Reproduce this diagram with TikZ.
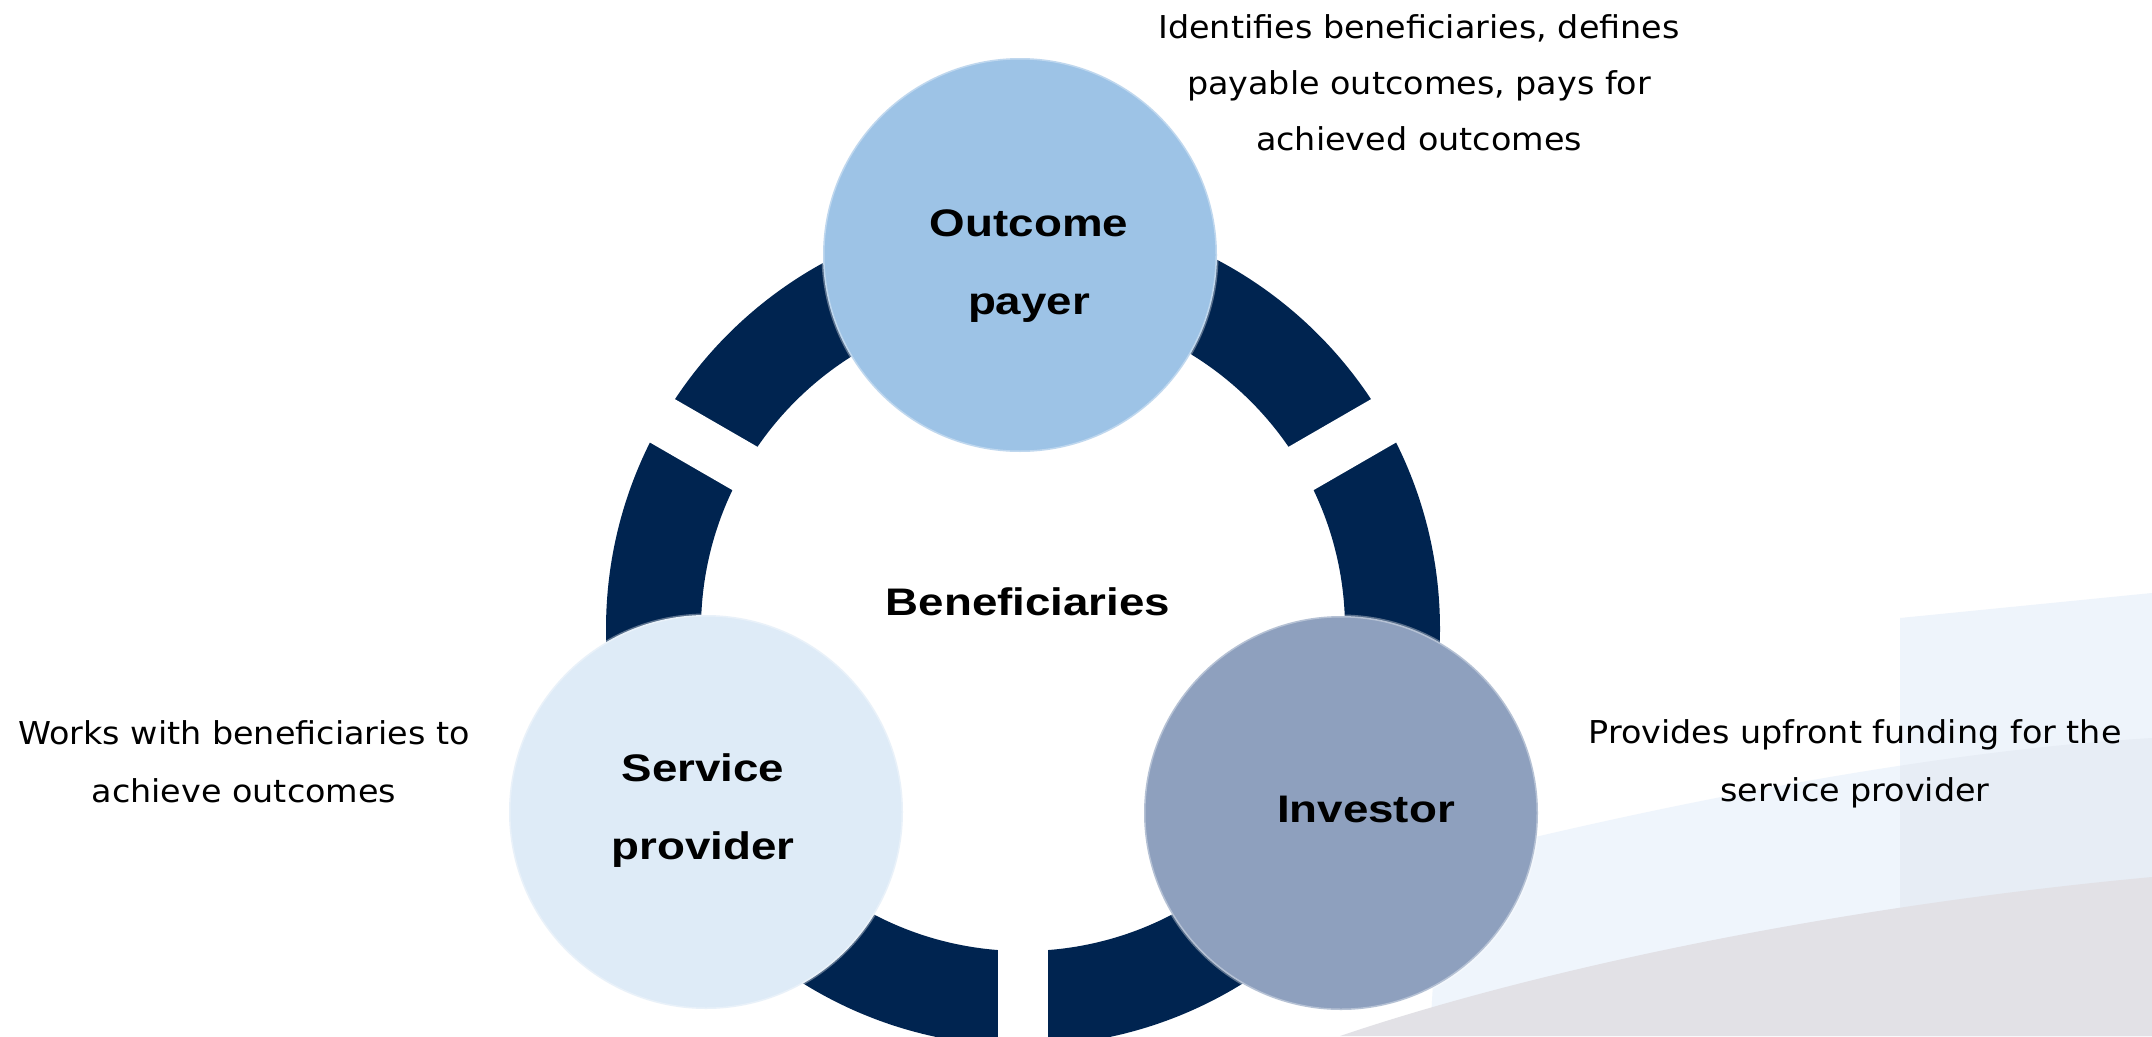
\documentclass[tikz,border=0pt]{standalone}
\usepackage{fontspec}
\newfontfamily\descfont{DejaVu Sans}[FakeStretch=1.06]
\newfontfamily\labfont{Liberation Sans}[FakeStretch=1.19]
\definecolor{navy}{RGB}{0,36,80}
\definecolor{payerblue}{RGB}{157,195,230}
\definecolor{provblue}{RGB}{222,235,247}
\definecolor{invblue}{RGB}{142,160,190}
\definecolor{bandblue}{RGB}{239,245,252}
\definecolor{panelblue}{RGB}{238,244,251}
\definecolor{bandpanel}{RGB}{231,237,245}
\definecolor{swgray}{RGB}{226,225,230}
\begin{document}
\begin{tikzpicture}[x=1pt,y=-1pt,
  party/.style={circle, minimum size=394pt, inner sep=0pt, draw=white, draw opacity=0.35, line width=3pt},
  lab/.style={font=\labfont\bfseries\fontsize{38.4}{77.5}\selectfont, align=center, inner sep=0pt},
  desc/.style={font=\descfont\fontsize{31.5}{58}\selectfont, align=center, inner sep=0pt}]
\useasboundingbox (0,0) rectangle (2152,1036);
\fill[white] (0,0) rectangle (2152,1036);
% background swooshes
\fill[bandblue] (1440,860) .. controls (1700,795) and (1950,750) .. (2152,738) -- (2152,1036) -- (1430,1036) -- cycle;
\fill[panelblue] (1900,618) -- (2152,593) -- (2152,1036) -- (1900,1036) -- cycle;
\begin{scope}
  \clip (1900,618) -- (2152,593) -- (2152,1036) -- (1900,1036) -- cycle;
  \fill[bandpanel] (1440,860) .. controls (1700,795) and (1950,750) .. (2152,738) -- (2152,1036) -- (1430,1036) -- cycle;
\end{scope}
\fill[swgray] (1340,1036) .. controls (1550,965) and (1850,905) .. (2152,877) -- (2152,1036) -- cycle;
% ring
\coordinate (ring) at (1023,629);
\fill[navy, even odd rule] (ring) circle[radius=417] (ring) circle[radius=322];
\begin{scope}
  \clip (ring) circle[radius=420];
  \foreach \a in {30,150,270}{
    \begin{scope}[shift={(1023,629)}, rotate=\a]
      \fill[white] (0,-25) rectangle (440,25);
    \end{scope}
  }
\end{scope}
% parties
\node[party, fill=payerblue] (payer) at (1020,255) {};
\node[party, fill=provblue] (prov) at (706,812) {};
\node[party, fill=invblue] (inv) at (1341,813) {};
% labels
\node[lab] (tpayer) at (1029,266) {Outcome\\payer};
\node[lab] (tprov) at (703,810.5) {Service\\provider};
\node[lab, anchor=base] (tinv) at (1366,822) {Investor};
\node[lab, anchor=base] (tben) at (1028,615) {Beneficiaries};
% descriptions
\node[desc, font=\descfont\fontsize{31.5}{56}\selectfont] (dpayer) at (1419,83) {Identifies beneficiaries, defines\\payable outcomes, pays for\\achieved outcomes};
\node[desc] (dprov) at (244,762) {Works with beneficiaries to\\achieve outcomes};
\node[desc] (dinv) at (1855,764) {Provides upfront funding for the\\service provider};
\end{tikzpicture}
\end{document}
